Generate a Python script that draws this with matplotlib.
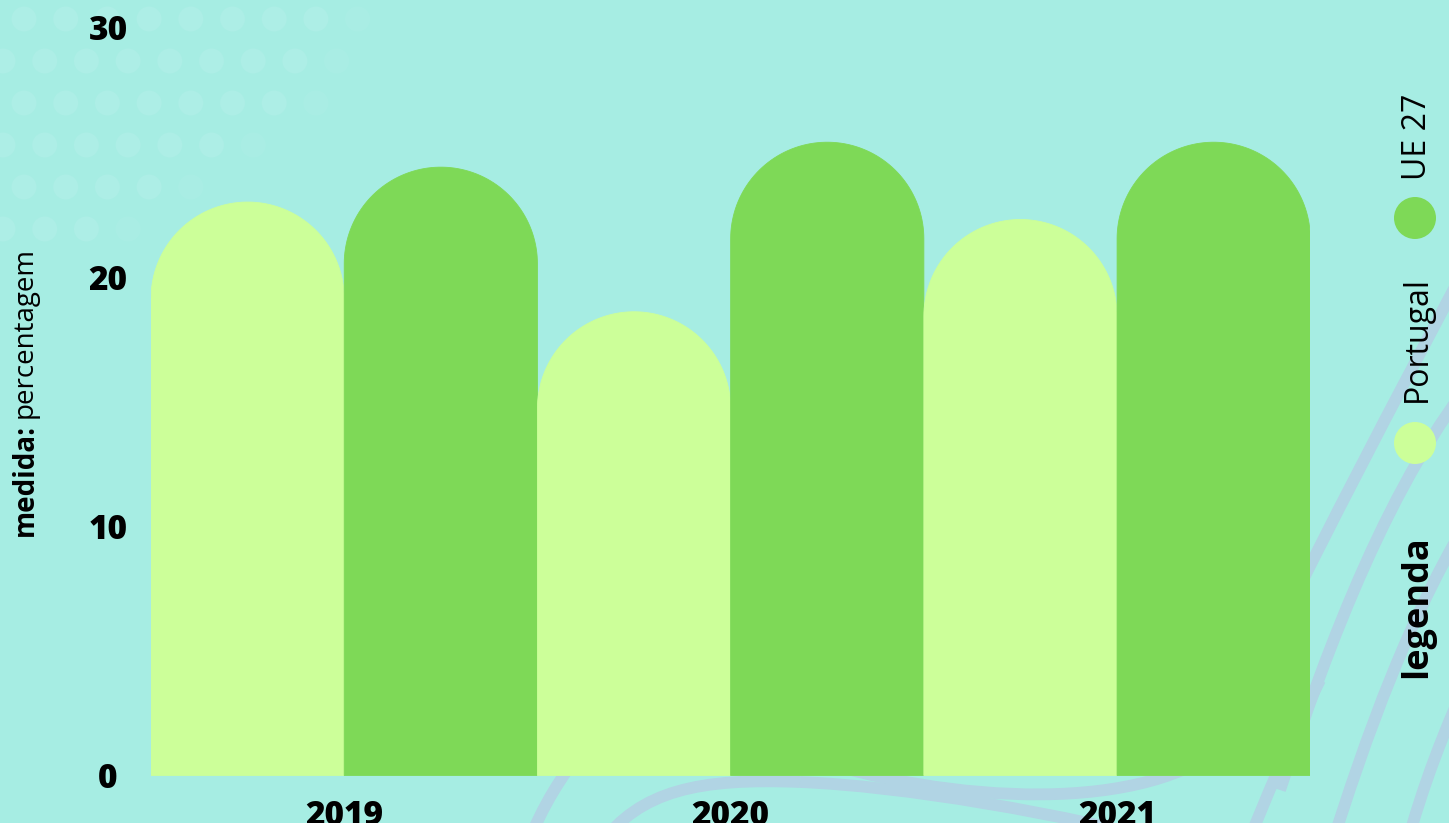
import numpy as np
import matplotlib
matplotlib.use("Agg")
import matplotlib.pyplot as plt
from matplotlib.path import Path
from matplotlib.patches import PathPatch, Polygon, Circle

plt.rcParams['font.family'] = ['Open Sans', 'DejaVu Sans']

# data
years = ['2019', '2020', '2021']
portugal = [23.0, 18.6, 22.3]
ue27 = [24.4, 25.4, 25.4]
series_names = ['Portugal', 'UE 27']
y_ticks = [0, 10, 20, 30]

BG = '#A6EDE3'
LIGHT = '#CCFF99'
DARK = '#7ED957'
STRIPE = '#B1D4E4'
DOT = '#ADEEE6'

W, H = 1449, 823
fig = plt.figure(figsize=(W / 100, H / 100), dpi=100, facecolor=BG)

# background layer in pixel coordinates (y grows downwards)
bg = fig.add_axes([0, 0, 1, 1], zorder=0)
bg.set_xlim(0, W)
bg.set_ylim(H, 0)
bg.axis('off')

# dotted pattern, top-left corner
dots_per_row = [9, 9, 8, 7, 5, 4]
for i, n in enumerate(dots_per_row):
    x0 = 24 if i % 2 == 0 else 3
    for j in range(n):
        a = 1.0 if j < n - 1 else 0.5
        bg.add_patch(Circle((x0 + 41.7 * j, 19 + 42 * i), 12.5, color=DOT, alpha=a, lw=0))

# curved stripes behind the bars
stripes = [
    [(1250, 690), (1300, 580), (1400, 390), (1480, 240)],
    [(1280, 790), (1330, 640), (1390, 480), (1480, 370)],
    [(1330, 850), (1365, 740), (1410, 610), (1480, 500)],
    [(1405, 850), (1425, 780), (1440, 740), (1480, 650)],
    [(1245, 850), (1265, 800), (1290, 740), (1320, 680)],
    [(525, 850), (545, 800), (560, 780), (585, 745)],
    [(600, 845), (640, 790), (700, 778), (800, 782)],
    [(800, 782), (900, 786), (1060, 812), (1200, 850)],
    [(800, 755), (950, 805), (1150, 815), (1230, 740)],
]
for pts in stripes:
    p = Path(pts, [Path.MOVETO, Path.CURVE4, Path.CURVE4, Path.CURVE4])
    bg.add_patch(PathPatch(p, fill=False, ec=STRIPE, lw=8.5, capstyle='butt'))

# main chart
left, right = 151 / W, 1310.3 / W
bottom, top = 1 - 775.5 / H, 1 - 27.5 / H
ax = fig.add_axes([left, bottom, right - left, top - bottom], zorder=1)
ax.patch.set_alpha(0)
ax.set_xlim(-1, 5)
ax.set_ylim(0, 30)
for s in ax.spines.values():
    s.set_visible(False)

centers = np.arange(len(years)) * 2.0
bar_w = 1.0

p0 = ax.transData.transform((0, 0))
p1 = ax.transData.transform((1, 1))
ry = 0.5 * (p1[0] - p0[0]) / (p1[1] - p0[1])   # radius of the round top, in y units


def rounded_bar(cx, value, color):
    t = np.linspace(np.pi, 0, 80)
    xs = cx + 0.5 * bar_w * np.cos(t)
    ys = value - ry + ry * np.sin(t)
    verts = [(cx - 0.5 * bar_w, 0)] + list(zip(xs, ys)) + [(cx + 0.5 * bar_w, 0)]
    ax.add_patch(Polygon(verts, closed=True, fc=color, ec=color, lw=0.6))


for c, pv, uv in zip(centers, portugal, ue27):
    rounded_bar(c - 0.5, pv, LIGHT)
    rounded_bar(c + 0.5, uv, DARK)

ax.set_yticks(y_ticks)
ax.set_yticklabels([str(v) for v in y_ticks], fontsize=24, fontweight=800)
for lbl in ax.get_yticklabels():
    lbl.set_ha('center')
ax.tick_params(axis='y', length=0, pad=31)
ax.set_xticks(centers)
ax.set_xticklabels(years, fontsize=24, fontweight=800)
ax.tick_params(axis='x', length=0, pad=17)

# y axis title, bold part then regular part
renderer = fig.canvas.get_renderer()
t1 = bg.text(25, 536, 'medida:', rotation=90, ha='center', va='bottom',
             fontsize=20, fontweight='bold')
ext = t1.get_window_extent(renderer)
top_px = H - ext.y1
bg.text(25, top_px - 6, 'percentagem', rotation=90, ha='center', va='bottom', fontsize=20)

# legend
bg.text(1417, 678, 'legenda', rotation=90, ha='center', va='bottom', fontsize=26, fontweight='bold')
bg.add_patch(Circle((1415, 443), 21, color=LIGHT, lw=0))
bg.text(1417, 402, series_names[0], rotation=90, ha='center', va='bottom', fontsize=23)
bg.add_patch(Circle((1415, 218), 21, color=DARK, lw=0))
bg.text(1417, 180, series_names[1], rotation=90, ha='center', va='bottom', fontsize=23)

fig.savefig('out.png', dpi=100, facecolor=BG)
